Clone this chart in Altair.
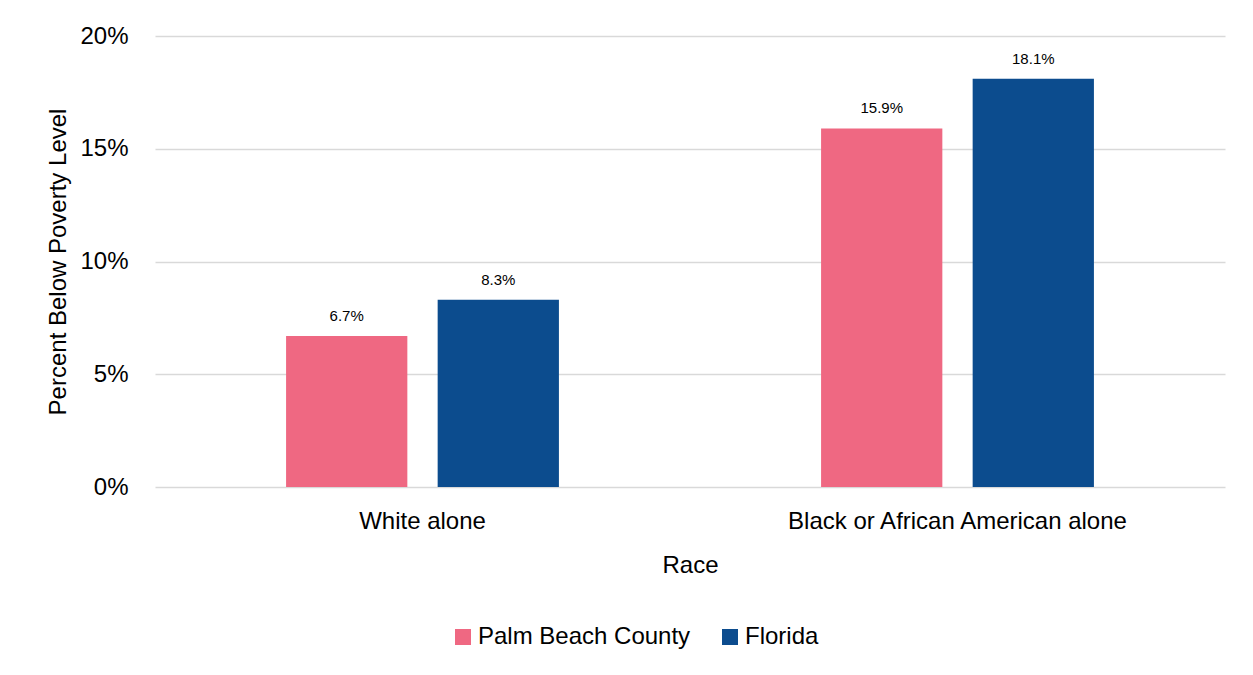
import altair as alt
import pandas as pd

races = ["White alone", "Black or African American alone"]
series = ["Palm Beach County", "Florida"]
palm_beach = [6.7, 15.9]
florida = [8.3, 18.1]
colors = ["#EF6882", "#0C4C8E"]

rows = []
for i, r in enumerate(races):
    rows.append({"Race": r, "Area": series[0], "Value": palm_beach[i]})
    rows.append({"Race": r, "Area": series[1], "Value": florida[i]})
df = pd.DataFrame(rows)
df["Label"] = df["Value"].map(lambda v: f"{v:.1f}%")

FONT = "Liberation Sans"

x = alt.X("Race:N", sort=races, title="Race",
          scale=alt.Scale(paddingInner=0.49, paddingOuter=0.245),
          axis=alt.Axis(labelAngle=0, labelFontSize=24, labelColor="#000000",
                        titleFontSize=24, titleColor="#000000", titleFontWeight="normal",
                        labelPadding=22, titlePadding=20, ticks=False, domain=False,
                        labelFont=FONT, titleFont=FONT, labelLimit=600))
xo = alt.XOffset("Area:N", sort=series, scale=alt.Scale(paddingInner=0.2, paddingOuter=0))
y = alt.Y("Value:Q", title="Percent Below Poverty Level",
          scale=alt.Scale(domain=[0, 20], nice=False),
          axis=alt.Axis(values=[0, 5, 10, 15, 20], labelExpr="datum.value + '%'",
                        labelFontSize=24, labelColor="#000000", titleFontSize=24,
                        titleColor="#000000", titleFontWeight="normal",
                        labelPadding=27, titlePadding=9, ticks=False, domain=False,
                        gridColor="#D9D9D9", gridWidth=1.5,
                        labelFont=FONT, titleFont=FONT))

color = alt.Color("Area:N", sort=series,
                  scale=alt.Scale(domain=series, range=colors),
                  legend=alt.Legend(title=None, orient="none", direction="horizontal",
                                    legendX=296, legendY=589, symbolType="square",
                                    symbolSize=256, symbolStrokeWidth=0,
                                    labelFontSize=24, labelFont=FONT, labelColor="#000000",
                                    labelOffset=3, columnPadding=27, labelLimit=400,
                                    symbolOpacity=1))

bars = alt.Chart(df).mark_bar(opacity=1).encode(x=x, xOffset=xo, y=y, color=color)
text = alt.Chart(df).mark_text(dy=-15, baseline="alphabetic", fontSize=15, font=FONT,
                               color="#000000").encode(
    x=x, xOffset=xo, y=y, text="Label:N")

chart = (bars + text).properties(
    width=1070, height=451,
    autosize=alt.AutoSizeParams(type="none"),
    padding={"left": 147, "top": 28, "right": 20, "bottom": 172},
).configure(background="white").configure_view(stroke=None)

chart.save("out.html", embed_options={"renderer": "svg", "actions": False})
